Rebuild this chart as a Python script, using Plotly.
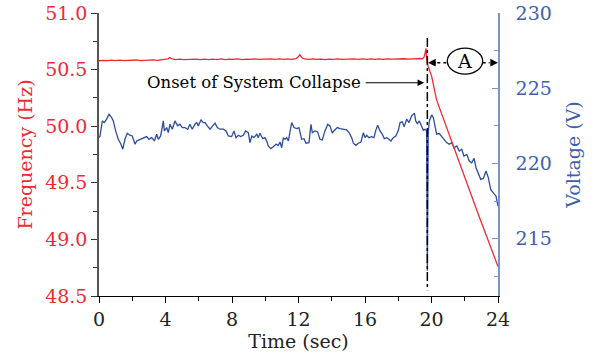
import plotly.graph_objects as go

# Frequency record (Hz) against time (s)
freq_t = [0.00, 0.25, 0.50, 0.75, 1.00, 1.25, 1.50, 1.75, 2.00, 2.25,
          2.50, 2.75, 3.00, 3.25, 3.50, 3.75, 4.00, 4.15, 4.27, 4.40,
          4.60, 4.85, 5.10, 5.35, 5.60, 5.85, 6.10, 6.35, 6.60, 6.85,
          7.10, 7.35, 7.60, 7.85, 8.10, 8.35, 8.60, 8.85, 9.10, 9.35,
          9.60, 9.85, 10.10, 10.35, 10.60, 10.85, 11.10, 11.35, 11.60, 11.85,
          12.00, 12.08, 12.20, 12.35, 12.60, 12.85, 13.10, 13.35, 13.60, 13.85,
          14.10, 14.35, 14.60, 14.85, 15.10, 15.35, 15.60, 15.85, 16.10, 16.35,
          16.60, 16.85, 17.10, 17.35, 17.60, 17.85, 18.10, 18.35, 18.60, 18.85,
          19.10, 19.30, 19.45, 19.55, 19.62, 19.67, 19.71, 19.75, 20.01, 20.31,
          22.72, 24.00]
freq_hz = [50.578, 50.582, 50.579, 50.583, 50.580, 50.584, 50.579, 50.583, 50.581, 50.585,
           50.580, 50.584, 50.582, 50.586, 50.582, 50.586, 50.588, 50.595, 50.607, 50.594,
           50.589, 50.592, 50.588, 50.591, 50.588, 50.592, 50.589, 50.593, 50.588, 50.592,
           50.589, 50.594, 50.589, 50.593, 50.590, 50.594, 50.589, 50.593, 50.590, 50.594,
           50.590, 50.593, 50.590, 50.594, 50.591, 50.594, 50.590, 50.594, 50.591, 50.596,
           50.615, 50.632, 50.606, 50.594, 50.590, 50.594, 50.590, 50.593, 50.589, 50.593,
           50.590, 50.594, 50.590, 50.593, 50.590, 50.594, 50.591, 50.594, 50.590, 50.594,
           50.591, 50.595, 50.591, 50.595, 50.592, 50.595, 50.592, 50.596, 50.592, 50.596,
           50.594, 50.598, 50.596, 50.610, 50.650, 50.688, 50.600, 50.550, 50.440, 50.230,
           49.260, 48.760]

# Voltage record (V) against time (s)
volt_t = [0.00, 0.06, 0.20, 0.32, 0.46, 0.60, 0.76, 0.86, 1.00, 1.16,
          1.32, 1.43, 1.56, 1.70, 1.86, 2.00, 2.17, 2.27, 2.47, 2.66,
          2.87, 3.01, 3.17, 3.33, 3.47, 3.57, 3.71, 3.87, 3.93, 4.07,
          4.17, 4.27, 4.41, 4.57, 4.73, 4.87, 5.01, 5.17, 5.34, 5.47,
          5.61, 5.77, 5.88, 5.97, 6.14, 6.27, 6.38, 6.51, 6.68, 6.84,
          6.98, 7.12, 7.28, 7.48, 7.64, 7.78, 7.98, 8.12, 8.24, 8.38,
          8.52, 8.68, 8.82, 8.98, 9.08, 9.19, 9.32, 9.49, 9.58, 9.68,
          9.85, 9.98, 10.09, 10.18, 10.33, 10.48, 10.65, 10.78, 10.89, 10.99,
          11.09, 11.19, 11.29, 11.39, 11.59, 11.73, 11.89, 12.03, 12.19, 12.33,
          12.45, 12.63, 12.75, 12.83, 12.99, 13.15, 13.29, 13.43, 13.59, 13.76,
          13.89, 14.03, 14.20, 14.33, 14.50, 14.69, 14.90, 15.04, 15.20, 15.30,
          15.44, 15.60, 15.76, 15.90, 16.00, 16.10, 16.24, 16.40, 16.54, 16.64,
          16.76, 16.90, 17.04, 17.16, 17.31, 17.44, 17.56, 17.70, 17.85, 18.00,
          18.11, 18.24, 18.36, 18.51, 18.65, 18.81, 18.97, 19.05, 19.15, 19.27,
          19.41, 19.51, 19.61, 19.71, 19.75, 19.80, 19.87, 20.01, 20.11, 20.21,
          20.31, 20.47, 20.61, 20.75, 20.91, 21.07, 21.22, 21.35, 21.52, 21.67,
          21.82, 21.95, 22.12, 22.27, 22.42, 22.56, 22.68, 22.82, 22.96, 23.12,
          23.28, 23.42, 23.56, 23.72, 23.88, 24.00]
volt_v = [221.72, 221.83, 222.83, 222.72, 222.95, 223.28, 223.05, 222.83, 222.17, 221.61,
          221.28, 220.95, 221.61, 222.01, 221.88, 221.83, 221.28, 221.50, 221.61, 221.72,
          221.79, 221.61, 221.72, 221.50, 221.95, 221.61, 221.83, 222.83, 222.17, 222.39,
          222.05, 222.61, 222.28, 222.83, 222.50, 222.61, 222.39, 222.39, 222.28, 222.61,
          222.28, 222.61, 222.72, 222.50, 222.90, 222.72, 222.72, 222.50, 222.28, 222.50,
          222.68, 222.39, 222.28, 222.28, 222.17, 221.83, 221.79, 222.17, 221.72, 221.88,
          221.79, 221.88, 222.17, 222.05, 221.39, 221.83, 221.72, 221.95, 221.72, 222.01,
          221.65, 221.72, 221.50, 221.17, 220.99, 221.12, 221.28, 221.21, 221.43, 221.05,
          221.72, 221.61, 221.72, 221.50, 222.72, 222.39, 222.32, 222.39, 221.61, 221.65,
          221.35, 221.39, 222.61, 222.05, 222.17, 222.10, 221.61, 221.57, 222.17, 222.61,
          222.50, 222.05, 222.23, 222.39, 222.32, 222.28, 222.23, 222.05, 221.72, 221.35,
          221.21, 221.35, 221.43, 222.05, 221.72, 221.88, 221.72, 221.79, 221.72, 222.17,
          222.55, 222.17, 221.95, 221.65, 221.72, 221.61, 221.50, 221.72, 221.83, 222.17,
          222.72, 222.77, 222.45, 222.95, 222.72, 223.17, 223.35, 222.83, 222.65, 222.83,
          222.39, 222.21, 222.28, 222.17, 212.88, 222.00, 222.83, 223.23, 223.05, 222.50,
          221.95, 221.99, 221.83, 221.61, 221.39, 221.28, 221.39, 221.05, 221.17, 220.83,
          220.95, 220.50, 220.61, 220.17, 220.05, 220.35, 219.72, 219.39, 218.95, 219.01,
          219.50, 219.05, 218.28, 218.05, 217.83, 217.17]

x_ticks = [0, 4, 8, 12, 16, 20, 24]
freq_ticks = [48.5, 49.0, 49.5, 50.0, 50.5, 51.0]
volt_ticks = [215, 220, 225, 230]

collapse_t = 19.75

RED = "#ee2a33"
BLUE = "#2b4c9f"
BLUE_AXIS = "#7a94cc"
FONT = "'DejaVu Serif', serif"
SIZE = 19

fig = go.Figure()

# Voltage trace on the right-hand axis (drawn underneath)
fig.add_trace(go.Scatter(x=volt_t, y=volt_v, mode="lines", yaxis="y",
                         line=dict(color=BLUE, width=1.3), hoverinfo="skip",
                         showlegend=False))
# Frequency trace on the left-hand axis (drawn on top)
fig.add_trace(go.Scatter(x=freq_t, y=freq_hz, mode="lines", yaxis="y2",
                         line=dict(color=RED, width=1.3), hoverinfo="skip",
                         showlegend=False))

arrow_y = 50.561
shapes = [
    # collapse instant
    dict(type="line", xref="x", yref="y2", x0=collapse_t, x1=collapse_t,
         y0=50.78, y1=48.55, line=dict(color="black", width=1.5, dash="dashdot")),
    # dotted span of region A
    dict(type="line", xref="x", yref="y2", x0=20.35, x1=20.95, y0=arrow_y, y1=arrow_y,
         line=dict(color="black", width=1.4, dash="dot")),
    dict(type="line", xref="x", yref="y2", x0=23.08, x1=23.5, y0=arrow_y, y1=arrow_y,
         line=dict(color="black", width=1.4, dash="dot")),
    dict(type="circle", xref="x", yref="y2", x0=20.95, x1=23.08, y0=50.46, y1=50.69,
         line=dict(color="black", width=1.3)),
]

annotations = [
    dict(x=22.01, y=50.575, xref="x", yref="y2", text="A", showarrow=False,
         font=dict(family=FONT, size=19, color="black")),
    dict(x=collapse_t + 0.04, y=arrow_y, ax=20.35, ay=arrow_y, xref="x", yref="y2",
         axref="x", ayref="y2", text="", showarrow=True, arrowhead=2,
         arrowsize=1.1, arrowwidth=1.4, arrowcolor="black"),
    dict(x=24.0, y=arrow_y, ax=23.5, ay=arrow_y, xref="x", yref="y2",
         axref="x", ayref="y2", text="", showarrow=True, arrowhead=2,
         arrowsize=1.1, arrowwidth=1.4, arrowcolor="black"),
    dict(x=15.85, y=50.384, xref="x", yref="y2", text="Onset of System Collapse",
         showarrow=False, xanchor="right", yanchor="middle",
         font=dict(family=FONT, size=16.5, color="black")),
    dict(x=19.56, y=50.384, ax=15.95, ay=50.384, xref="x", yref="y2",
         axref="x", ayref="y2", text="", showarrow=True, arrowhead=2,
         arrowsize=1.1, arrowwidth=1.2, arrowcolor="black"),
]

fig.update_layout(
    width=594, height=360,
    margin=dict(l=99, r=96, t=13, b=64),
    paper_bgcolor="white", plot_bgcolor="white",
    font=dict(family=FONT, size=SIZE),
    shapes=shapes, annotations=annotations,
    xaxis=dict(range=[0, 24], tickvals=x_ticks, showgrid=False, zeroline=False,
               automargin=False,
               showline=True, linecolor="black", linewidth=1.2,
               ticks="outside", ticklen=6, tickcolor="black", tickwidth=1.2,
               minor=dict(dtick=2, tick0=0, ticks="outside", ticklen=4,
                          tickcolor="black", tickwidth=1.0),
               tickfont=dict(family=FONT, size=SIZE, color="#222222"),
               title=dict(text="Time (sec)", standoff=2,
                          font=dict(family=FONT, size=SIZE, color="#222222"))),
    yaxis=dict(range=[211.2, 230.0], tickvals=volt_ticks, side="right",
               automargin=False,
               showgrid=False, zeroline=False, showline=True,
               linecolor=BLUE_AXIS, linewidth=1.5,
               ticks="inside", ticklen=6, tickcolor=BLUE_AXIS, tickwidth=1.2,
               minor=dict(tick0=0, dtick=2.5, ticks="inside", ticklen=4,
                          tickcolor=BLUE_AXIS, tickwidth=1.0),
               ticklabelstandoff=12,
               tickfont=dict(family=FONT, size=SIZE, color="#3d5fae"),
               title=dict(text="Voltage (V)", standoff=16,
                          font=dict(family=FONT, size=SIZE, color="#3d5fae"))),
    yaxis2=dict(range=[48.5, 51.0], tickvals=freq_ticks, tickformat=".1f",
                overlaying="y", side="left", anchor="x", automargin=False,
                showgrid=False, zeroline=False, showline=True,
                linecolor="#555555", linewidth=1.5,
                ticks="outside", ticklen=6, tickcolor="#333333", tickwidth=1.2,
                minor=dict(tick0=0, dtick=0.25, ticks="outside", ticklen=4,
                           tickcolor="#333333", tickwidth=1.0),
                tickfont=dict(family=FONT, size=SIZE, color=RED),
                title=dict(text="Frequency (Hz)", standoff=7,
                           font=dict(family=FONT, size=SIZE, color=RED))),
)

fig.write_html("out.html")
